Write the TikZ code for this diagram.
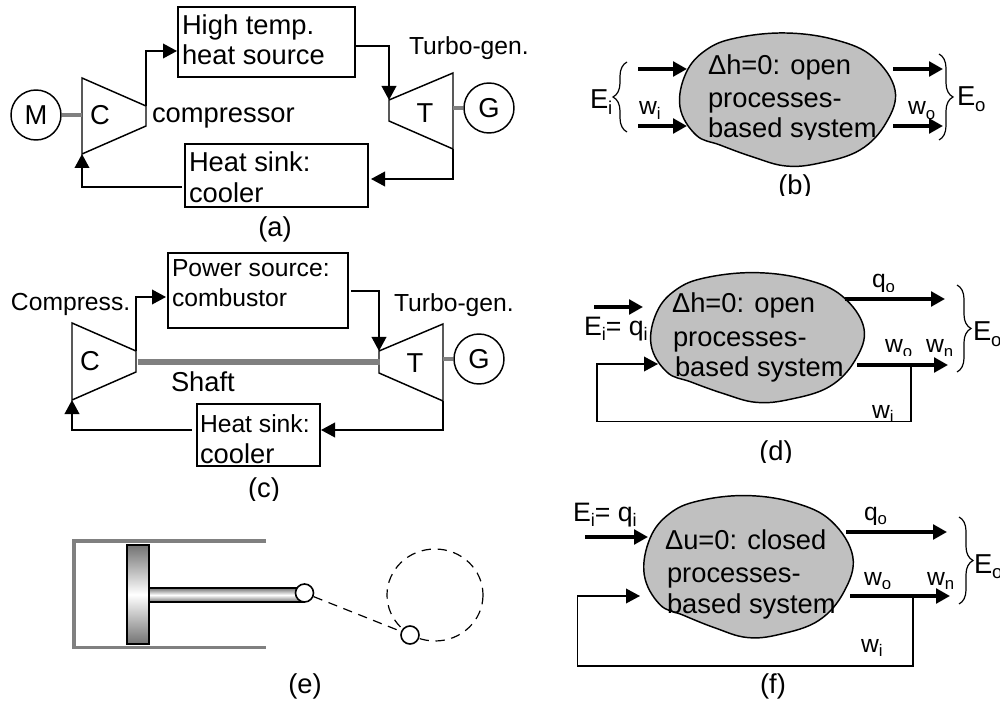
\documentclass[tikz,border=0pt]{standalone}
\usepackage{fontspec}
\setmainfont{Liberation Sans}
\usetikzlibrary{arrows.meta,decorations.pathreplacing}
\newcommand{\subs}[1]{\raisebox{-.2em}{\fontsize{.68em}{.75em}\selectfont #1}}
\newcommand{\cliplabel}[6]{\begin{scope}\clip (#3-30,#4-45) rectangle (#3+240,#5);\node[#6] (#1) at (#3,#4) {#2};\end{scope}}
\definecolor{linkgrey}{HTML}{808080}
\definecolor{blobgrey}{HTML}{C0C0C0}
\tikzset{
  basetxt/.style={anchor=base west,inner sep=0pt,outer sep=0pt,text=black},
  bigtxt/.style={basetxt,font=\fontsize{20.5}{24}\selectfont},
  midtxt/.style={basetxt,font=\fontsize{18.5}{22}\selectfont},
  smltxt/.style={basetxt,font=\fontsize{18.5}{22}\selectfont},
  eqtxt/.style={basetxt,font=\fontsize{20}{24}\selectfont},
  captxt/.style={anchor=center,inner sep=0pt,font=\fontsize{20.5}{24}\selectfont},
  box/.style={draw,line width=1.3pt,inner sep=0pt,outer sep=0pt},
  wheel/.style={draw,circle,line width=1.1pt,minimum size=37.5pt,inner sep=0pt,font=\fontsize{20.5}{24}\selectfont},
  machine/.style={draw,line width=1.1pt,line join=miter},
  linkbar/.style={draw=linkgrey,line width=3.5pt},
  flow/.style={draw,line width=1.2pt,-{Triangle[length=10.5pt,width=11pt]}},
  heavy/.style={draw,line width=3pt,-{Triangle[length=10.5pt,width=11pt]}},
  loopline/.style={draw,line width=1.1pt,-{Triangle[length=10.5pt,width=11pt]}},
  blob/.style={draw,fill=blobgrey,line width=1.1pt},
  curly/.style={draw,line width=.9pt,decorate,decoration={brace,amplitude=10.5pt}},
  joint/.style={draw,circle,fill=white,line width=1.2pt,minimum size=13.5pt,inner sep=0pt},
  cyl/.style={draw=linkgrey,line width=2.7pt,line join=miter}
}
\newcommand{\blobpath}[4]{\draw[blob,shift={(#1,#2)},xscale=#3,yscale=#4]
  plot[smooth cycle,tension=.65] coordinates {(-1,-66)(49,-59)(86,-42)(108,-9)(99,24)(73,51)(33,64)(-1,67)(-34,58)(-67,46)(-91,36)(-107,8)(-101,-26)(-81,-49)(-51,-61)};}
\begin{document}
\begin{tikzpicture}[x=.75pt,y=-.75pt]
\useasboundingbox (0,0) rectangle (1000,702);
% ---------- (a)
\node[box,minimum width=132.75pt,minimum height=52.5pt] (hs) at (266.5,42) {};
\node[bigtxt] (hst1) at (182,35) {High temp.};
\node[bigtxt] (hst2) at (182,65) {heat source};
\node[box,minimum width=137.25pt,minimum height=47.25pt] (sa) at (276.5,175.5) {};
\node[bigtxt] (sat1) at (189,172) {Heat sink:};
\node[bigtxt] (sat2) at (189,203) {cooler};
\node[wheel] (Ma) at (36,115) {M};
\draw[machine] (82,78) coordinate (Ca1) -- (146,106) coordinate (Ca2) -- (146,126) -- (82,154) coordinate (Ca3) -- cycle;
\node[bigtxt,anchor=center] (Cla) at (100,115) {C};
\node[bigtxt] (cmp) at (152,123) {compressor};
\coordinate (Ca0) at (82,115);
\draw[linkbar] (Ma.east) -- (Ca0);
\draw[machine] (453,73) -- (389,100) coordinate (Ta1) -- (389,121) -- (453,149) coordinate (Ta2) -- cycle;
\node[bigtxt,anchor=center] (Tla) at (425,113) {T};
\node[wheel] (Ga) at (489,108) {G};
\coordinate (Ta0) at (453,108);
\draw[linkbar] (Ta0) -- (Ga.west);
\node[midtxt] (tga) at (409,55) {Turbo-gen.};
\coordinate (hsin) at (177,51);
\coordinate (hsout) at (355,46);
\coordinate (sain) at (371,179);
\coordinate (saout) at (182,187);
\draw[flow] (Ca2) |- (hsin);
\draw[flow] (hsout) -| (Ta1);
\draw[flow] (Ta2) |- (sain);
\draw[flow] (saout) -| (Ca3);
\node[captxt] (capa) at (275,229) {(a)};
% ---------- (c)
\node[box,minimum width=135pt,minimum height=56.25pt] (ps) at (258,290.5) {};
\node[midtxt] (pst1) at (172,277) {Power source:};
\node[midtxt] (pst2) at (172,307) {combustor};
\node[box,minimum width=92.25pt,minimum height=46.5pt] (sc) at (258.5,435) {};
\node[midtxt] (sct1) at (200,432) {Heat sink:};
\node[bigtxt] (sct2) at (200,463) {cooler};
\draw[machine] (72,323) -- (136,351) coordinate (Cc2) -- (136,372) -- (72,400) coordinate (Cc3) -- cycle;
\node[bigtxt,anchor=center] (Clc) at (90,361) {C};
\node[midtxt] (cmpc) at (11,311) {Compress.};
\draw[machine] (443,324) -- (379,351) coordinate (Tc1) -- (379,373) -- (443,401) coordinate (Tc2) -- cycle;
\node[bigtxt,anchor=center] (Tlc) at (415,363) {T};
\node[wheel] (Gc) at (479,359) {G};
\coordinate (Tc0) at (443,359);
\draw[linkbar] (Tc0) -- (Gc.west);
\coordinate (shA) at (138,362);
\coordinate (shB) at (380,362);
\draw[draw=linkgrey,line width=3.8pt] (shA) -- (shB);
\node[bigtxt] (shf) at (171,392) {Shaft};
\node[midtxt] (tgc) at (394,312) {Turbo-gen.};
\coordinate (psin) at (166,297);
\coordinate (psout) at (351,291);
\coordinate (scin) at (321,430);
\coordinate (scout) at (192,430);
\draw[flow] (Cc2) |- (psin);
\draw[flow] (psout) -| (Tc1);
\draw[flow] (Tc2) |- (scin);
\draw[flow] (scout) -| (Cc3);
\cliplabel{capc}{(c)}{264}{490}{500}{captxt}
% ---------- (e)
\draw[cyl] (266,541) -- (74,541) -- (74,647.5) -- (266,647.5);
\shade[top color=black!55,bottom color=black!55,middle color=white] (148,588) rectangle (305,602);
\draw[line width=1.1pt] (305,588) -- (148,588) -- (148,602) -- (305,602);
\shade[top color=black!55,bottom color=black!55,middle color=white] (127,545) rectangle (149,644);
\draw[line width=1.1pt] (127,545) rectangle (149,644);
\draw[line width=.9pt,dash pattern=on 7pt off 5pt] (435,595) ellipse [x radius=48,y radius=46];
\node[joint] (j1) at (304.5,593) {};
\node[joint] (j2) at (410,635) {};
\draw[line width=.9pt,dash pattern=on 7pt off 5pt] (j1) -- (j2);
\node[captxt] (cape) at (305,686) {(e)};
% ---------- (b)
\blobpath{787}{99}{1}{1}
\node[bigtxt] (bt1) at (708,75) {Δh=0: open};
\node[bigtxt] (bt2) at (708,108) {processes-};
\cliplabel{bt3}{based system}{708}{138}{140}{bigtxt}
\coordinate (bi1a) at (638,69); \coordinate (bi1b) at (687,69);
\coordinate (bi2a) at (638,126); \coordinate (bi2b) at (687,126);
\coordinate (bo1a) at (893,69); \coordinate (bo1b) at (943,69);
\coordinate (bo2a) at (893,126); \coordinate (bo2b) at (943,126);
\draw[heavy] (bi1a) -- (bi1b);
\draw[heavy] (bi2a) -- (bi2b);
\draw[heavy] (bo1a) -- (bo1b);
\draw[heavy] (bo2a) -- (bo2b);
\draw[curly] (627,132) -- (627,62);
\draw[curly] (939,54) -- (939,140);
\node[bigtxt] (bEi) at (590,109) {E\subs{i}};
\node[smltxt] (bwi) at (639,115) {w\subs{i}};
\node[smltxt] (bwo) at (908,115) {w\subs{o}};
\node[bigtxt] (bEo) at (957,106) {E\subs{o}};
\cliplabel{capb}{(b)}{795}{187}{196}{captxt}
% ---------- (d)
\blobpath{757}{337}{.99}{.975}
\node[bigtxt] (dt1) at (672,313) {Δh=0: open};
\node[bigtxt] (dt2) at (673,347) {processes-};
\node[bigtxt] (dt3) at (675,377) {based system};
\coordinate (dia) at (594,307); \coordinate (dib) at (643,307);
\coordinate (dqa) at (845,299); \coordinate (dqb) at (945,299);
\coordinate (dwa) at (857,365); \coordinate (dwb) at (948,365);
\coordinate (dfa) at (911,365); \coordinate (dfb) at (658,364);
\draw[heavy] (dia) -- (dib);
\draw[heavy] (dqa) -- (dqb);
\draw[heavy] (dwa) -- (dwb);
\draw[loopline] (dfa) -- (911,421.5) -- (597,421.5) -- (597,364) -- (dfb);
\draw[curly] (957,285) -- (957,372);
\node[eqtxt] (dEi) at (584,335) {E\subs{i}= q\subs{i}};
\cliplabel{dqo}{q\subs{o}}{872}{288}{292}{smltxt}
\cliplabel{dwo}{w\subs{o}}{885}{353}{356}{smltxt}
\cliplabel{dwn}{w\subs{n}}{926}{353}{356}{smltxt}
\cliplabel{dwi}{w\subs{i}}{872}{418}{421}{smltxt}
\node[bigtxt] (dEo) at (973,341) {E\subs{o}};
\cliplabel{capd}{(d)}{776}{453}{462}{captxt}
% ---------- (f)
\blobpath{748}{566}{.97}{1.067}
\node[bigtxt] (ft1) at (665,549) {Δu=0: closed};
\node[bigtxt] (ft2) at (667,582) {processes-};
\node[bigtxt] (ft3) at (667,613) {based system};
\coordinate (fia) at (585,537); \coordinate (fib) at (648,537);
\coordinate (fqa) at (846,532); \coordinate (fqb) at (947,532);
\coordinate (fwa) at (850,596); \coordinate (fwb) at (950,596);
\coordinate (ffa) at (913,596); \coordinate (ffb) at (640,596);
\draw[heavy] (fia) -- (fib);
\draw[heavy] (fqa) -- (fqb);
\draw[heavy] (fwa) -- (fwb);
\draw[loopline] (ffa) -- (913,666) -- (577.5,666) -- (577.5,596) -- (ffb);
\draw[curly] (959,517) -- (959,604);
\node[eqtxt] (fEi) at (573,521) {E\subs{i}= q\subs{i}};
\cliplabel{fqo}{q\subs{o}}{864}{520}{524}{smltxt}
\cliplabel{fwo}{w\subs{o}}{864}{585}{588}{smltxt}
\cliplabel{fwn}{w\subs{n}}{927}{585}{588}{smltxt}
\node[smltxt] (fwi) at (861,652) {w\subs{i}};
\node[bigtxt] (fEo) at (974,573) {E\subs{o}};
\node[captxt] (capf) at (773,686) {(f)};
\end{tikzpicture}
\end{document}
